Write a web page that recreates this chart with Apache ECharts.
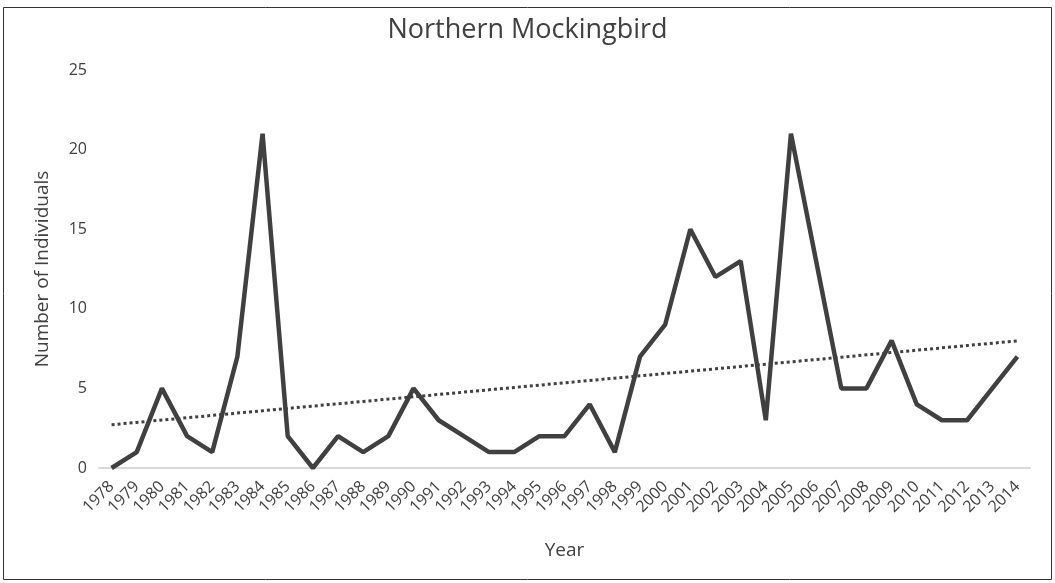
<!DOCTYPE html>
<html>
<head>
<meta charset="utf-8">
<script src="https://cdn.jsdelivr.net/npm/echarts@6/dist/echarts.min.js"></script>
<style>
html,body{margin:0;padding:0;background:#fff;}
#chart{width:1055px;height:583px;}
</style>
</head>
<body>
<div id="chart"></div>
<script>
const years = ['1978','1979','1980','1981','1982','1983','1984','1985','1986','1987','1988','1989','1990','1991','1992','1993','1994','1995','1996','1997','1998','1999','2000','2001','2002','2003','2004','2005','2006','2007','2008','2009','2010','2011','2012','2013','2014'];
const individuals = [0,1,5,2,1,7,21,2,0,2,1,2,5,3,2,1,1,2,2,4,1,7,9,15,12,13,3,21,13,5,5,8,4,3,3,5,7];
const yTicks = [0,5,10,15,20,25];

// Linear trendline (least squares) from the data, as in the original spreadsheet chart
const n = individuals.length;
let sx=0, sy=0, sxy=0, sxx=0;
individuals.forEach((v,i)=>{ sx+=i; sy+=v; sxy+=i*v; sxx+=i*i; });
const slope = (n*sxy - sx*sy)/(n*sxx - sx*sx);
const intercept = (sy - slope*sx)/n;
const trend = individuals.map((v,i)=> +(intercept + slope*i).toFixed(3));

const font = 'Open Sans';
const chart = echarts.init(document.getElementById('chart'));
chart.setOption({
  backgroundColor:'#fff',
  animation:false,
  graphic:[{type:'rect', shape:{x:3.5,y:7.5,width:1048,height:572}, style:{fill:'none', stroke:'#333', lineWidth:1}, silent:true}],
  title:{text:'Northern Mockingbird', left:'center', top:12, textStyle:{fontFamily:font, fontSize:27, fontWeight:'normal', color:'#404040'}},
  grid:{left:99, right:25, top:70, bottom:115},
  xAxis:{type:'category', data:years, boundaryGap:true,
    name:'Year', nameLocation:'middle', nameGap:73,
    nameTextStyle:{fontFamily:font, fontSize:19, color:'#404040'},
    axisLine:{lineStyle:{color:'#d9d9d9', width:2}},
    axisTick:{show:false},
    axisLabel:{interval:0, rotate:45, margin:16, fontFamily:font, fontSize:16, color:'#404040'}},
  yAxis:{type:'value', min:yTicks[0], max:yTicks[yTicks.length-1], interval:yTicks[1]-yTicks[0],
    name:'Number of Individuals', nameLocation:'middle', nameGap:47,
    nameTextStyle:{fontFamily:font, fontSize:19, color:'#404040'},
    axisLine:{show:false}, axisTick:{show:false}, splitLine:{show:false},
    axisLabel:{margin:12, fontFamily:font, fontSize:16, color:'#404040'}},
  series:[
    {type:'line', data:individuals, showSymbol:false, lineStyle:{color:'#404040', width:4.5}, z:3},
    {type:'line', data:trend, showSymbol:false, lineStyle:{color:'#404040', width:3, type:[3,3]}, z:2}
  ]
});
</script>
</body>
</html>
